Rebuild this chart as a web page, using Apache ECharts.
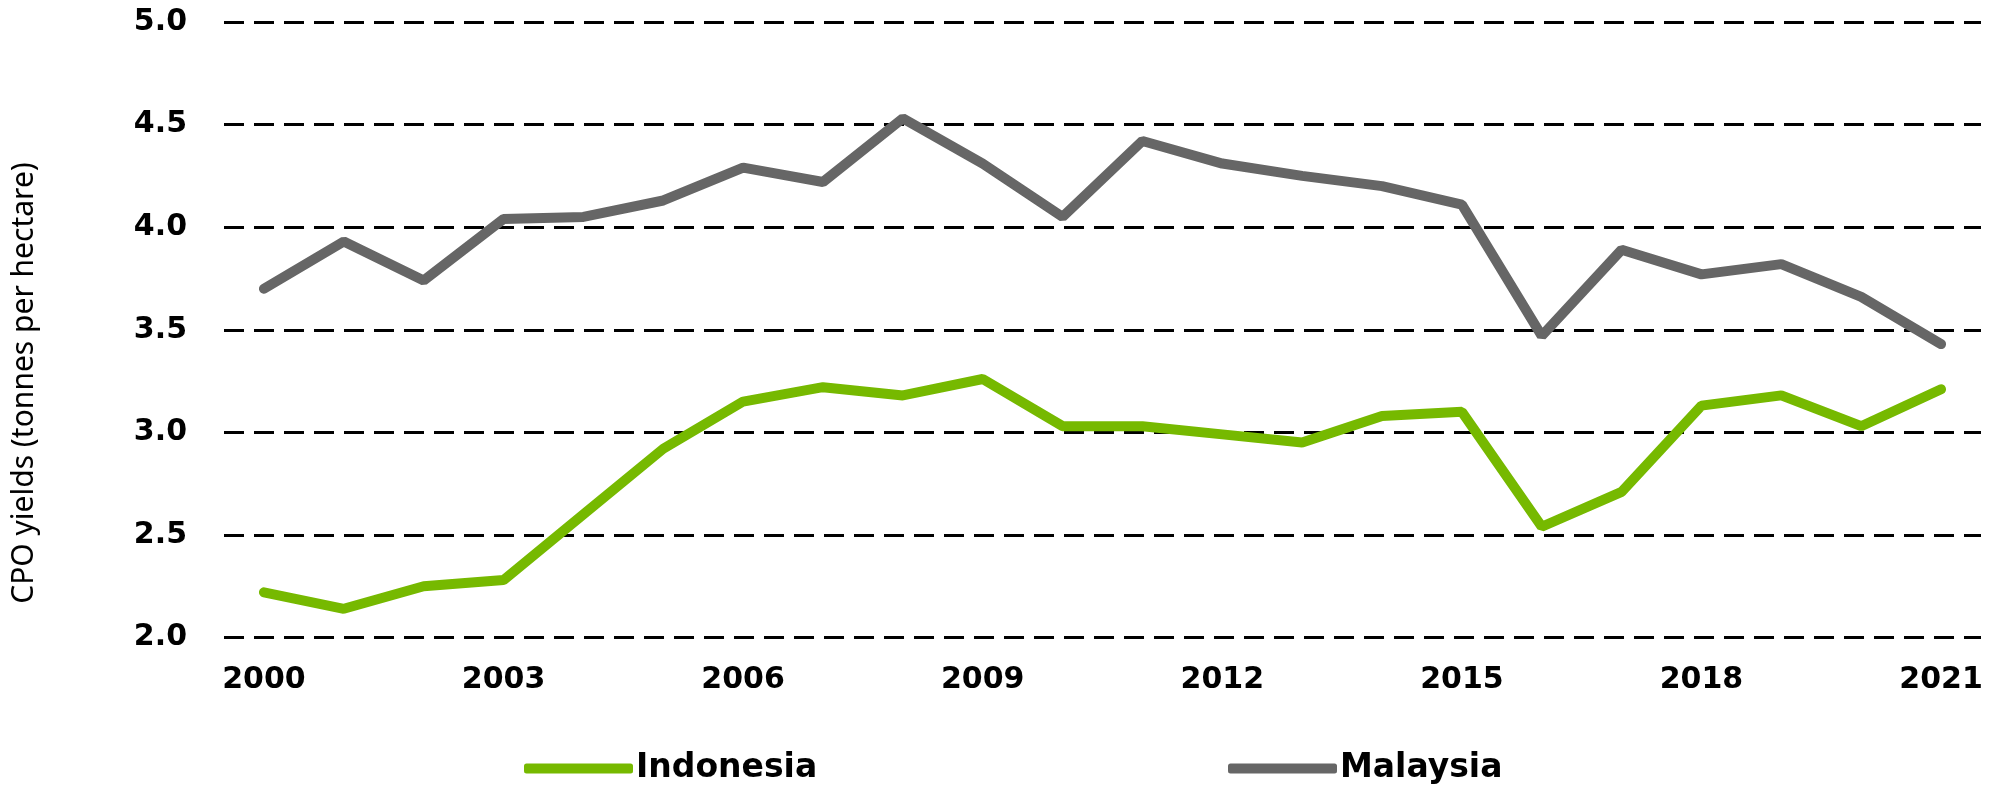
<!DOCTYPE html>
<html>
<head>
<meta charset="utf-8">
<script src="https://cdn.jsdelivr.net/npm/echarts@6/dist/echarts.min.js"></script>
<style>
  html, body { margin: 0; padding: 0; background: #fff; }
  #chart { width: 2011px; height: 787px; }
</style>
</head>
<body>
<div id="chart"></div>
<script>
// years on the x axis
var years = ['2000','2001','2002','2003','2004','2005','2006','2007','2008','2009','2010',
             '2011','2012','2013','2014','2015','2016','2017','2018','2019','2020','2021'];

// CPO yields, tonnes per hectare
var indonesia = [2.22, 2.14, 2.25, 2.28, 2.60, 2.92, 3.15, 3.22, 3.18, 3.26, 3.03,
                 3.03, 2.99, 2.95, 3.08, 3.10, 2.54, 2.71, 3.13, 3.18, 3.03, 3.21];
var malaysia  = [3.70, 3.93, 3.74, 4.04, 4.05, 4.13, 4.29, 4.22, 4.53, 4.31, 4.05,
                 4.42, 4.31, 4.25, 4.20, 4.11, 3.47, 3.89, 3.77, 3.82, 3.66, 3.43];

var seriesNames = ['Indonesia', 'Malaysia'];
var yName = 'CPO yields (tonnes per hectare)';

var labelFont = '"DejaVu Sans", Verdana, sans-serif';

var myChart = echarts.init(document.getElementById('chart'));

// one legend per item so each sits where it is in the picture
function legendAt(name, left) {
    return {
        data: [name],
        left: left,
        top: 747,
        icon: 'roundRect',
        itemWidth: 109,
        itemHeight: 10,
        itemGap: 0,
        textStyle: { fontFamily: labelFont, fontWeight: 'bold', fontSize: 33, color: '#000', padding: [0, 0, 0, -2] }
    };
}

var option = {
    backgroundColor: '#ffffff',
    animation: false,
    grid: { left: 224, right: 30, top: 22, bottom: 149.5, containLabel: false },
    legend: [legendAt(seriesNames[0], 519), legendAt(seriesNames[1], 1223)],
    xAxis: {
        type: 'category',
        data: years,
        boundaryGap: true,
        axisLine: { show: false },
        axisTick: { show: false },
        splitLine: { show: false },
        axisLabel: {
            interval: 2,
            margin: 28,
            fontFamily: labelFont,
            fontWeight: 'bold',
            fontSize: 30,
            color: '#000'
        }
    },
    yAxis: {
        type: 'value',
        min: 2,
        max: 5,
        interval: 0.5,
        axisLine: { show: false },
        axisTick: { show: false },
        axisLabel: {
            margin: 37,
            fontFamily: labelFont,
            fontWeight: 'bold',
            fontSize: 30,
            color: '#000',
            formatter: function (v) { return v.toFixed(1); }
        },
        splitLine: {
            show: true,
            lineStyle: { color: '#000', width: 3, type: [20, 10] }
        }
    },
    graphic: [{
        type: 'text',
        x: 24,
        y: 383,
        rotation: Math.PI / 2,
        style: {
            text: yName,
            fill: '#000',
            font: '30px "Noto Sans", "Open Sans", sans-serif',
            textAlign: 'center',
            textVerticalAlign: 'middle'
        }
    }],
    series: [
        {
            name: seriesNames[0],
            type: 'line',
            data: indonesia,
            symbol: 'none',
            color: '#76b900',
            lineStyle: { width: 10, color: '#76b900', cap: 'round' },
            z: 3
        },
        {
            name: seriesNames[1],
            type: 'line',
            data: malaysia,
            symbol: 'none',
            color: '#666666',
            lineStyle: { width: 10, color: '#666666', cap: 'round' },
            z: 3
        }
    ]
};

myChart.setOption(option);
</script>
</body>
</html>
